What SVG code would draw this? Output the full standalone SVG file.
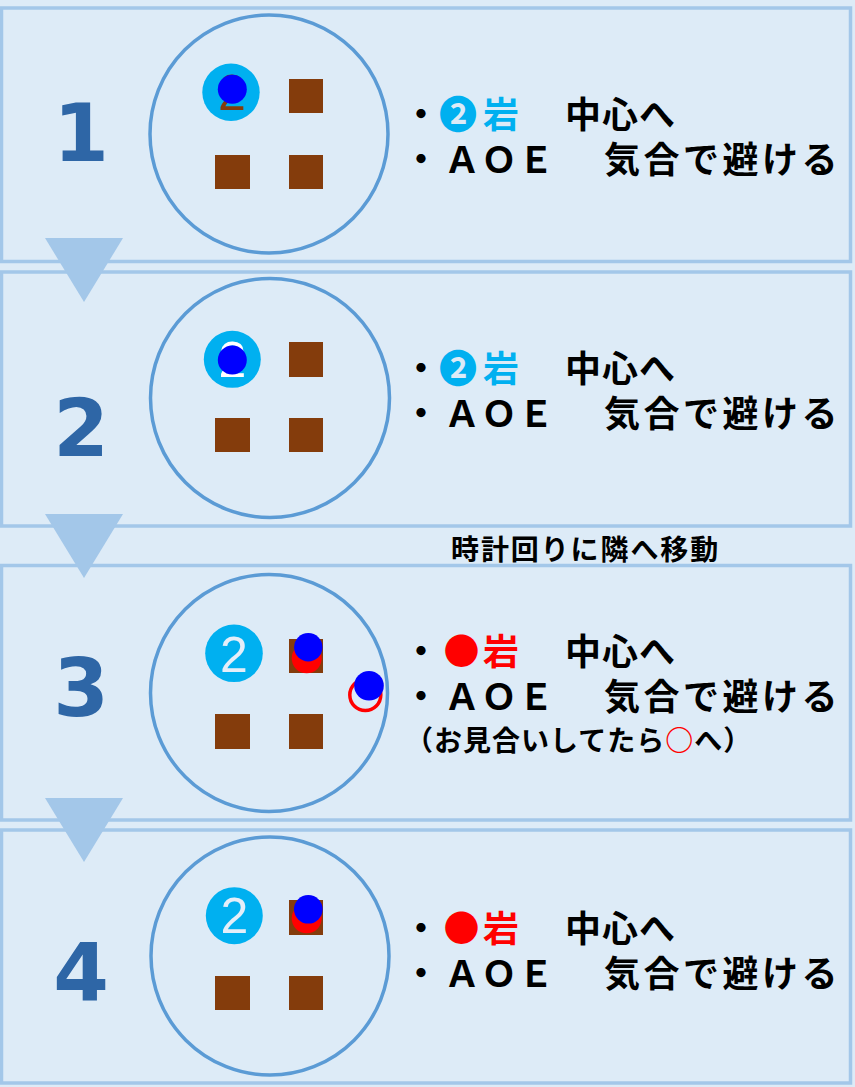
<svg xmlns="http://www.w3.org/2000/svg" width="855" height="1087" viewBox="0 0 855 1087">
<style>
.bg{fill:#DDEBF7}
.panel{fill:#DDEBF7;stroke:#A3C7E9;stroke-width:3.5}
.arena{fill:none;stroke:#5B9BD5;stroke-width:3.5}
.rock{fill:#843C0C}
.mark{fill:#00B0F0}
.blue{fill:#0000FF}
.red{fill:#FF0000}
.tri{fill:#A3C7E9}
.num{font-family:"DejaVu Sans",sans-serif;font-weight:bold;font-size:80px;fill:#2E66A6;text-anchor:middle}
.two{font-family:"Liberation Sans",Arial,sans-serif;font-size:50px;text-anchor:middle}
.jp{font-family:"Noto Sans CJK JP",sans-serif;font-weight:bold;font-size:36px;fill:#000}
.sm{font-family:"Noto Sans CJK JP",sans-serif;font-weight:bold;font-size:28px;fill:#000}
.big{font-size:38px}
</style>
<rect class="bg" x="0" y="0" width="855" height="1087"/>

<g id="panel1">
<rect class="panel" x="1.5" y="8" width="849" height="253.5"/>
<text class="num" x="81" y="161">1</text>
<circle class="arena" cx="269" cy="134" r="119"/>
<rect class="rock" x="289" y="79" width="34" height="34"/>
<rect class="rock" x="215" y="155" width="35" height="34"/>
<rect class="rock" x="289" y="155" width="34" height="34"/>
<circle class="mark" cx="231" cy="92.3" r="28.7"/>
<text class="two" x="232" y="109.5" fill="#843C0C">2</text>
<circle class="blue" cx="232.3" cy="89.3" r="14.5"/>
<text class="jp"><tspan x="403" y="128">・</tspan><tspan x="458" y="128" text-anchor="middle" class="big" fill="#00B0F0">❷</tspan><tspan x="483" y="128" fill="#00B0F0">岩</tspan><tspan x="565" y="128" letter-spacing="1">中心へ</tspan><tspan x="403" y="173">・</tspan><tspan x="444" y="173" letter-spacing="1">ＡＯＥ</tspan><tspan x="604" y="173" letter-spacing="3.5">気合で避ける</tspan></text>
</g>

<g id="panel2">
<rect class="panel" x="1.5" y="272" width="849" height="254"/>
<text class="num" x="81" y="456">2</text>
<circle class="arena" cx="270" cy="398" r="119.5"/>
<rect class="rock" x="289" y="342" width="34" height="35"/>
<rect class="rock" x="215" y="418" width="35" height="34"/>
<rect class="rock" x="289" y="418" width="34" height="34"/>
<circle class="mark" cx="232.3" cy="359.3" r="28.5"/>
<text class="two" x="232.3" y="376.5" fill="#FFFFFF">2</text>
<circle class="blue" cx="232.3" cy="360" r="14.5"/>
<text class="jp"><tspan x="403" y="382">・</tspan><tspan x="458" y="382" text-anchor="middle" class="big" fill="#00B0F0">❷</tspan><tspan x="483" y="382" fill="#00B0F0">岩</tspan><tspan x="565" y="382" letter-spacing="1">中心へ</tspan><tspan x="403" y="427">・</tspan><tspan x="444" y="427" letter-spacing="1">ＡＯＥ</tspan><tspan x="604" y="427" letter-spacing="3.5">気合で避ける</tspan></text>
</g>

<text id="move-note" class="sm" x="451" y="560" letter-spacing="1.9">時計回りに隣へ移動</text>

<g id="panel3">
<rect class="panel" x="1.5" y="565.5" width="849" height="254.5"/>
<text class="num" x="81" y="716">3</text>
<circle class="arena" cx="269" cy="693" r="118.5"/>
<rect class="rock" x="289" y="639" width="34" height="34"/>
<rect class="rock" x="215" y="714" width="35" height="35"/>
<rect class="rock" x="289" y="714" width="34" height="35"/>
<circle class="mark" cx="234" cy="653.3" r="28.8"/>
<text class="two" x="234" y="672" fill="#E4EEF9">2</text>
<circle class="red" cx="306.7" cy="658.3" r="15"/>
<circle class="blue" cx="308.3" cy="647.3" r="14.2"/>
<circle cx="365.3" cy="695" r="15.5" fill="none" stroke="#FF0000" stroke-width="3.5"/>
<circle class="blue" cx="369" cy="685.7" r="14.8"/>
<text class="jp"><tspan x="403" y="665">・</tspan><tspan x="461.5" y="665" text-anchor="middle" fill="#FF0000">●</tspan><tspan x="483" y="665" fill="#FF0000">岩</tspan><tspan x="565" y="665" letter-spacing="1">中心へ</tspan><tspan x="403" y="710">・</tspan><tspan x="444" y="710" letter-spacing="1">ＡＯＥ</tspan><tspan x="604" y="710" letter-spacing="3.5">気合で避ける</tspan><tspan class="sm" x="405" y="751" letter-spacing="1">（お見合いしてたら<tspan fill="#FF0000">○</tspan>へ）</tspan></text>
</g>

<g id="panel4">
<rect class="panel" x="1.5" y="830" width="849" height="253"/>
<text class="num" x="81" y="1001">4</text>
<circle class="arena" cx="270" cy="956" r="119"/>
<rect class="rock" x="289" y="900" width="34" height="35"/>
<rect class="rock" x="215" y="976" width="35" height="34"/>
<rect class="rock" x="289" y="976" width="34" height="34"/>
<circle class="mark" cx="234.3" cy="915.7" r="28.5"/>
<text class="two" x="234.3" y="932.5" fill="#E4EEF9">2</text>
<circle class="red" cx="306.7" cy="918.3" r="15"/>
<circle class="blue" cx="308.3" cy="909.3" r="14.3"/>
<text class="jp"><tspan x="403" y="942">・</tspan><tspan x="461.5" y="942" text-anchor="middle" fill="#FF0000">●</tspan><tspan x="483" y="942" fill="#FF0000">岩</tspan><tspan x="565" y="942" letter-spacing="1">中心へ</tspan><tspan x="403" y="987">・</tspan><tspan x="444" y="987" letter-spacing="1">ＡＯＥ</tspan><tspan x="604" y="987" letter-spacing="3.5">気合で避ける</tspan></text>
</g>

<g id="connectors">
<polygon class="tri" points="45,238 123,238 84,302"/>
<polygon class="tri" points="45,514 123,514 84,578"/>
<polygon class="tri" points="45,798 123,798 84,862"/>
</g>
</svg>
